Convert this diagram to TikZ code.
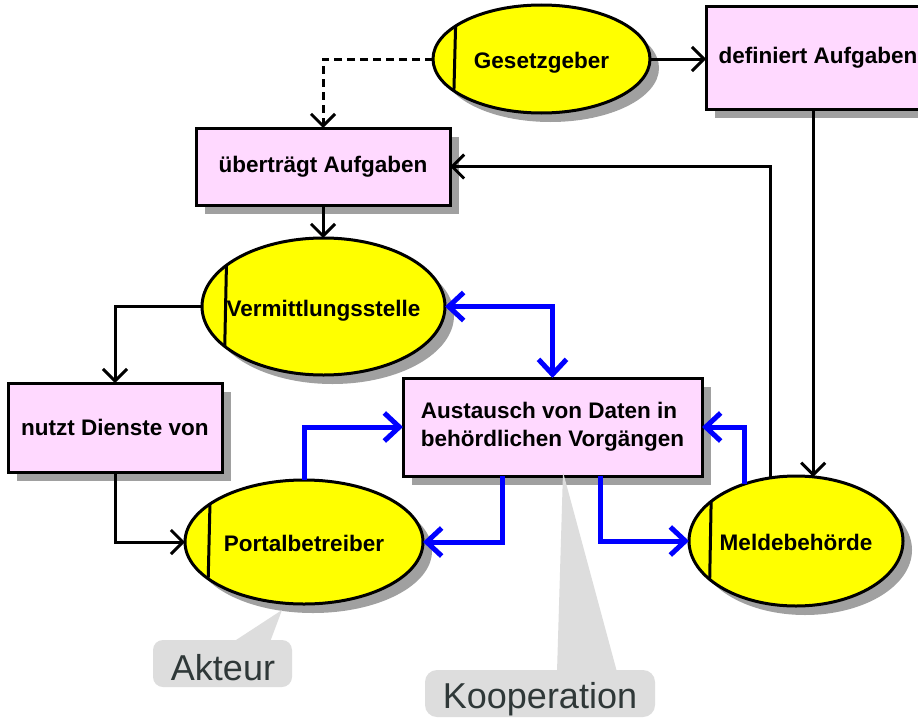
\documentclass[tikz,border=0pt]{standalone}
\usepackage{fontspec}
\setmainfont{Liberation Sans}
\usetikzlibrary{arrows.meta,shapes.geometric,shadows,calc}
\definecolor{actyellow}{HTML}{FFFF00}
\definecolor{funcpink}{HTML}{FFD9FF}
\definecolor{shadowgray}{HTML}{A0A0A0}
\definecolor{calloutgray}{HTML}{DDDDDD}
\definecolor{callouttext}{HTML}{2F3838}
\definecolor{coopblue}{HTML}{0000FF}
\begin{document}
\begin{tikzpicture}[x=1pt,y=-1pt,
 every node/.style={outer sep=0pt},
 shade9/.style={general shadow={shadow xshift=9pt,shadow yshift=-9pt,fill=shadowgray}},
 actor/.style={ellipse, draw, line width=3pt, fill=actyellow, inner sep=0pt, shade9},
 nodetext/.style={font=\fontsize{22.5}{28}\selectfont\bfseries, text depth=0pt, inner sep=0pt, yshift=-1.5pt},
 func/.style={rectangle, draw, line width=3pt, fill=funcpink, inner sep=0pt, shade9, font=\fontsize{22.5}{28}\selectfont\bfseries},
 bar/.style={line width=3pt},
 flow/.style={line width=3pt, -{Straight Barb[length=12pt,width=24pt]}},
 coop/.style={line width=5pt, coopblue, -{Straight Barb[length=15pt,width=28pt]}},
 coopboth/.style={line width=5pt, coopblue, {Straight Barb[length=15pt,width=28pt]}-{Straight Barb[length=15pt,width=28pt]}},
 callout/.style={fill=calloutgray},
 callouttxt/.style={font=\fontsize{36}{40}\selectfont, text=callouttext, inner sep=0pt},
]
\fill[white] (0,0) rectangle (918,720);
\useasboundingbox (0,0) rectangle (918,720);

% actors
\node[actor, minimum width=217pt, minimum height=108pt, label={[nodetext]center:Gesetzgeber}] (ges) at (541.5,59) {};
\node[actor, minimum width=243pt, minimum height=137pt, label={[nodetext]center:Vermittlungsstelle}] (verm) at (323.5,306.5) {};
\node[actor, minimum width=238pt, minimum height=124pt, label={[nodetext]center:Portalbetreiber}] (port) at (304,542) {};
\node[actor, minimum width=214pt, minimum height=130pt, label={[nodetext]center:Meldebehörde}] (meld) at (796,541) {};

\draw[bar] (ges.159.35) -- (ges.200.65);
\draw[bar] (verm.157.85) -- (verm.202.15);
\draw[bar] (port.158.5) -- (port.201.5);
\draw[bar] (meld.155.8) -- (meld.204.2);

% functions
\node[func, minimum width=224pt, minimum height=103pt] (def) at (818,57.5) {definiert Aufgaben};
\node[func, minimum width=254pt, minimum height=77pt] (ueb) at (323,166.5) {überträgt Aufgaben};
\node[func, minimum width=214pt, minimum height=89pt] (nutzt) at (115,427.5) {nutzt Dienste von};
\node[func, minimum width=299pt, minimum height=98pt, align=left] (aus) at (552.5,427) {Austausch von Daten in\\behördlichen Vorgängen};

% black connectors
\draw[flow] (ges.east) -- (ges.east -| def.west);
\draw[flow, dash pattern=on 8pt off 5pt] (ges.west) -| (ueb.north);
\draw[flow] (ueb.south) -- (ueb.south |- verm.north);
\draw[flow] (def.south -| meld.75.2) -- (meld.75.2);
\draw[flow] (meld.112.4) |- (ueb.east);
\draw[flow] (verm.west) -| (nutzt.north);
\draw[flow] (nutzt.south) |- (port.west);

% blue connectors
\draw[coopboth] (verm.east) -| (aus.north);
\draw[coop] (port.north) |- (aus.west);
\draw[coop] (meld.132.5) |- (aus.east);
\coordinate (ausl) at ($(aus.south)+(-50.5,0)$);
\coordinate (ausr) at ($(aus.south)+(47.5,0)$);
\draw[coop] (ausl) |- (port.east);
\draw[coop] (ausr) |- (meld.west);

% callouts
\fill[callout, rounded corners=10pt] (153,640) rectangle (292,687);
\fill[callout] (233,642) -- (270,642) -- (282,610) -- cycle;
\node[callouttxt, anchor=base] (akt) at (223,680) {Akteur};
\fill[callout, rounded corners=12pt] (425,670) rectangle (655,717);
\fill[callout] (557,672) -- (617,672) -- (563,472) -- cycle;
\node[callouttxt, anchor=base] (koop) at (540,708) {Kooperation};
\end{tikzpicture}
\end{document}
